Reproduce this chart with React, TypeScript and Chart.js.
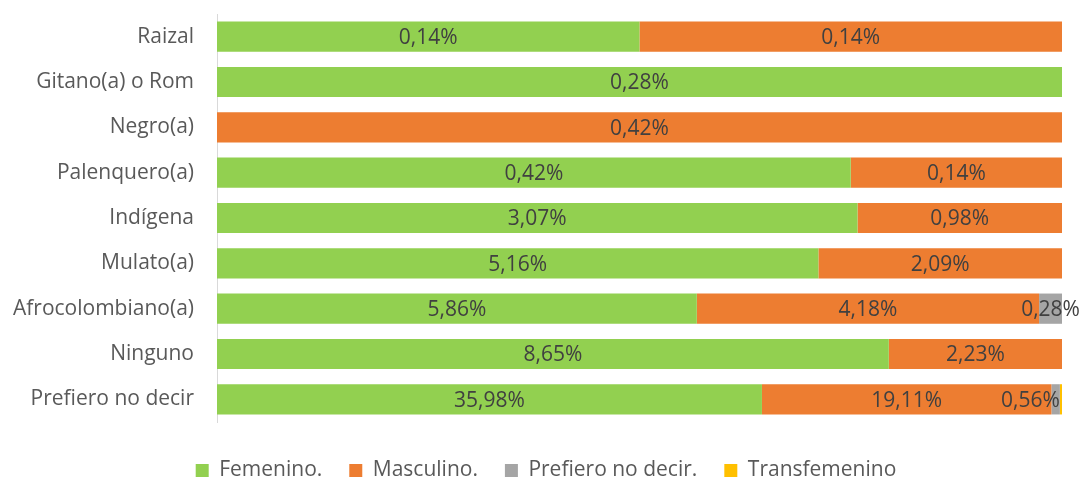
import React, { useEffect, useRef } from "react";
import { Chart, registerables } from "chart.js";

Chart.register(...registerables);

const categories = [
  "Raizal",
  "Gitano(a) o Rom",
  "Negro(a)",
  "Palenquero(a)",
  "Indígena",
  "Mulato(a)",
  "Afrocolombiano(a)",
  "Ninguno",
  "Prefiero no decir",
];

const femenino = [0.14, 0.28, 0, 0.42, 3.07, 5.16, 5.86, 8.65, 35.98];
const masculino = [0.14, 0, 0.42, 0.14, 0.98, 2.09, 4.18, 2.23, 19.11];
const prefieroNoDecir = [0, 0, 0, 0, 0, 0, 0.28, 0, 0.56];
const transfemenino = [0, 0, 0, 0, 0, 0, 0, 0, 0.14];

const seriesNames = ["Femenino.", "Masculino.", "Prefiero no decir.", "Transfemenino"];
const seriesColors = ["#92D050", "#ED7D31", "#A5A5A5", "#FFC000"];

const FONT = "'Open Sans', 'Noto Sans', sans-serif";
const FS = 21;

export default function App() {
  const ref = useRef<HTMLCanvasElement | null>(null);

  useEffect(() => {
    const raw = [femenino, masculino, prefieroNoDecir, transfemenino];
    const totals = categories.map((_, i) => raw.reduce((s, arr) => s + arr[i], 0));
    const norm = raw.map((arr) => arr.map((v, i) => (totals[i] ? (v / totals[i]) * 100 : 0)));

    const labelPlugin = {
      id: "segLabels",
      afterDatasetsDraw(chart: any) {
        const ctx = chart.ctx;
        ctx.save();
        ctx.font = `${FS}px ${FONT}`;
        ctx.fillStyle = "#404040";
        ctx.textBaseline = "middle";
        ctx.textAlign = "center";
        const nds = chart.data.datasets.length;
        for (let d = 0; d < nds; d++) {
          const meta = chart.getDatasetMeta(d);
          meta.data.forEach((el: any, i: number) => {
            const v = raw[d][i];
            if (!v) return;
            const left = Math.min(el.x, el.base);
            const right = Math.max(el.x, el.base);
            const w = right - left;
            if (w < 4) return;
            const text = v.toFixed(2).replace(".", ",") + "%";
            const tw = ctx.measureText(text).width;
            let cx = (left + right) / 2;
            let hasNext = false;
            for (let k = d + 1; k < nds; k++) if (raw[k][i]) hasNext = true;
            if (tw > w && hasNext) cx = right - tw / 2;
            ctx.fillText(text, cx, el.y + 1.5);
          });
        }
        ctx.restore();
      },
    };

    const chart = new Chart(ref.current as HTMLCanvasElement, {
      type: "bar",
      data: {
        labels: categories,
        datasets: norm.map((arr, k) => ({
          label: seriesNames[k],
          data: arr,
          backgroundColor: seriesColors[k],
          borderWidth: 0,
          categoryPercentage: 1,
          barPercentage: 0.667,
        })),
      },
      options: {
        indexAxis: "y",
        responsive: false,
        animation: false,
        layout: { padding: { top: 14, right: 19, left: 30, bottom: -10 } },
        scales: {
          x: {
            stacked: true,
            display: true,
            min: 0,
            max: 100,
            grid: { display: false, drawTicks: false },
            border: { display: false },
            ticks: { display: false },
            afterFit: (s: any) => {
              s.height = 11;
            },
          },
          y: {
            stacked: true,
            grid: { display: false, drawTicks: false },
            border: { display: true, color: "#D9D9D9", width: 1 },
            ticks: { color: "#595959", font: { family: FONT, size: FS }, padding: 23 },
            afterFit: (s: any) => {
              s.paddingTop = 0;
              s.paddingBottom = 0;
              s.width = 187;
              s._computeLabelArea = () => undefined;
            },
          },
        },
        plugins: {
          legend: {
            position: "bottom",
            labels: {
              color: "#595959",
              font: { family: FONT, size: FS },
              boxWidth: 13,
              boxHeight: 13,
              padding: 27,
            },
          },
          tooltip: { enabled: false },
        },
      },
      plugins: [labelPlugin],
    } as any);
    return () => chart.destroy();
  }, []);

  return (
    <div style={{ position: "absolute", left: 0, top: 0, width: 1081, height: 481, background: "#fff" }}>
      <canvas ref={ref} width={1081} height={481} />
    </div>
  );
}
